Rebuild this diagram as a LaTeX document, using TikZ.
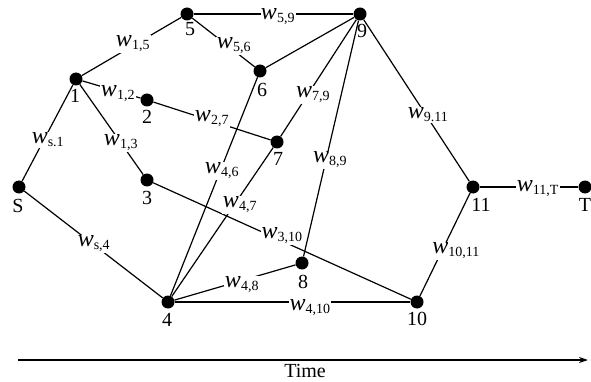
\documentclass[tikz,border=0pt]{standalone}
\usepackage{fontspec}
\setmainfont{Liberation Serif}
\usetikzlibrary{arrows.meta}
\definecolor{ink}{HTML}{000000}
\newcommand{\lab}{\fontsize{20}{22}\selectfont}
\newcommand{\wt}[1]{{\fontsize{24}{24}\selectfont\textit{w}}\textsubscript{#1}}

\begin{document}
\begin{tikzpicture}[x=1pt,y=-1pt,font=\lab,
  dot/.style={circle,fill=ink,inner sep=0,minimum size=13pt},
  num/.style={inner sep=0,text=ink},
  edge/.style={ink,line width=1.2pt},
  wlab/.style={fill=white,inner sep=0.5pt,text=ink}]
\useasboundingbox (0,0) rectangle (591,382);
% vertices
\node[dot] (S) at (19,187) {};
\node[dot] (n1) at (76,79) {};
\node[dot] (n2) at (147,100) {};
\node[dot] (n3) at (147,180) {};
\node[dot] (n4) at (168,302) {};
\node[dot] (n5) at (187,14) {};
\node[dot] (n6) at (260,71) {};
\node[dot] (n7) at (277,142) {};
\node[dot] (n8) at (302,263) {};
\node[dot] (n9) at (360,14) {};
\node[dot] (n10) at (417,302) {};
\node[dot] (n11) at (473,187) {};
\node[dot] (T) at (585,187) {};
% vertex names
\node[num] (tS) at (18,206) {S};
\node[num] (t1) at (75,96) {1};
\node[num] (t2) at (147,117) {2};
\node[num] (t3) at (147,198) {3};
\node[num] (t4) at (167,320) {4};
\node[num] (t5) at (190,29) {5};
\node[num] (t6) at (262,90) {6};
\node[num] (t7) at (278,159) {7};
\node[num] (t8) at (303,282) {8};
\node[num] (t9) at (362,31) {9};
\node[num] (t10) at (417,319) {10};
\node[num] (t11) at (481,205) {11};
\node[num] (tT) at (585,205) {T};
% edges
\draw[edge] (S) -- (n1);
\draw[edge] (S) -- (n4);
\draw[edge] (n1) -- (n5);
\draw[edge] (n1) -- (n2);
\draw[edge] (n1) -- (n3);
\draw[edge] (n5) -- (n9);
\draw[edge] (n5) -- (n6);
\draw[edge] (n6) -- (n9);
\draw[edge] (n2) -- (n7);
\draw[edge] (n7) -- (n9);
\draw[edge] (n4) -- (n6);
\draw[edge] (n4) -- (n7);
\draw[edge] (n3) -- (n10);
\draw[edge] (n8) -- (n9);
\draw[edge] (n4) -- (n8);
\draw[edge] (n4) -- (n10);
\draw[edge] (n9) -- (n11);
\draw[edge] (n10) -- (n11);
\draw[edge] (n11) -- (T);
% weights
\node[wlab] (wS1) at (48,140) {\wt{s.1}};
\node[wlab] (wS4) at (94,244) {\wt{s,4}};
\node[wlab] (w15) at (133,44) {\wt{1,5}};
\node[wlab] (w12) at (118,94) {\wt{1,2}};
\node[wlab] (w13) at (121,143) {\wt{1,3}};
\node[wlab] (w59) at (278,17) {\wt{5,9}};
\node[wlab] (w56) at (234,46) {\wt{5,6}};
\node[wlab] (w27) at (212,119) {\wt{2,7}};
\node[wlab] (w79) at (313,95) {\wt{7,9}};
\node[wlab] (w46) at (222,171) {\wt{4,6}};
\node[wlab] (w47) at (240,205) {\wt{4,7}};
\node[wlab] (w310) at (282,236) {\wt{3,10}};
\node[wlab] (w89) at (330,160) {\wt{8,9}};
\node[wlab] (w48) at (242,285) {\wt{4,8}};
\node[wlab] (w410) at (310,308) {\wt{4,10}};
\node[wlab] (w911) at (428,115) {\wt{9.11}};
\node[wlab] (w1011) at (456,251) {\wt{10,11}};
\node[wlab] (w11T) at (538,189) {\wt{11,T}};
% time axis
\coordinate (ax0) at (18,360);
\coordinate (ax1) at (588,360);
\draw[ink,line width=1.8pt,-{Stealth[length=9pt,width=6pt]}] (ax0) -- (ax1);
\node[num] (time) at (305,371) {Time};
\end{tikzpicture}
\end{document}
